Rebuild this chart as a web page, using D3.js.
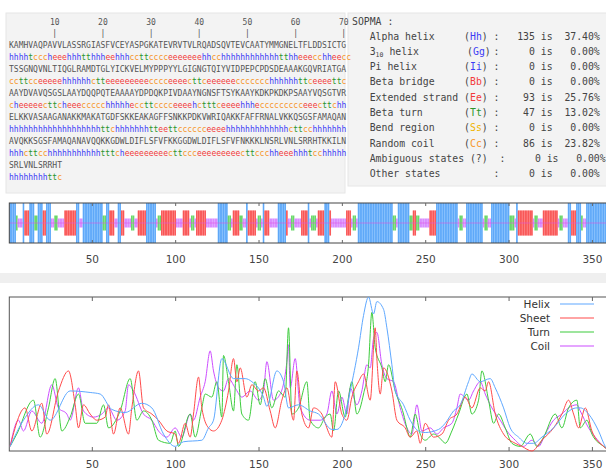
<!DOCTYPE html>
<html>
<head>
<meta charset="utf-8">
<script src="https://cdn.jsdelivr.net/npm/d3@7"></script>
<style>
  body { margin: 0; background: #fff; }
  svg { display: block; }
  .mono { font-family: "DejaVu Sans Mono", monospace; }
  .axis text { font-family: "DejaVu Sans", sans-serif; font-size: 10.5px; fill: #444; }
  .axis line { stroke: #666; }
  .axis path { display: none; }
</style>
</head>
<body>
<div id="chart"></div>
<script>
// Sequence and SOPMA prediction, 70 residues per line
const seqLines = [
  "KAMHVAQPAVVLASSRGIASFVCEYASPGKATEVRVTVLRQADSQVTEVCAATYMMGNELTFLDDSICTG",
  "TSSGNQVNLTIQGLRAMDTGLYICKVELMYPPPYYLGIGNGTQIYVIDPEPCPDSDEAAAKGQVRIATGA",
  "AAYDVAVQSGSLAAYDQQPQTEAAAAYDPDQKPIVDAAYNGNSFTSYKAAYKDKPKDKPSAAYVQSGTVR",
  "ELKKVASAAGANAKKMAKATGDFSKKEAKAGFFSNKKPDKVWRIQAKKFAFFRNALVKKQSGSFAMAQAN",
  "AVQKKSGSFAMAQANAVQQKKGDWLDIFLSFVFKKGGDWLDIFLSFVFNKKKLNSRLVNLSRRHTKKILN",
  "SRLVNLSRRHT"
];
const structLines = [
  "hhhhtcccheeehhhtthhheehhhccttcccceeeeeeehhcchhhhhhhhhhhhtthheeecchheecc",
  "ccttcceeeeehhhhhhctteeeeeeeeecccceeeecttceeeeeeccccccchhhhhhttceeeettc",
  "cheeeeecttcheeeccccchhhhheccttcccceeeehctttceeeehhheccccccccceeecttchh",
  "hhhhhhhhhhhhhhhhhhhttchhhhhhhtteettcccccceeeehhhhhhhhhhhhhcttcchhhhhhh",
  "hhhcttcchhhhhhhhhhhtttcheeeeeeeeecttccceeeeeeeeecttccchheeehhhtcchhhhh",
  "hhhhhhhhttc"
];
const rulerTicks = [10, 20, 30, 40, 50, 60, 70];

const sopmaLabels = ["Alpha helix", "3|10 helix", "Pi helix", "Beta bridge", "Extended strand",
  "Beta turn", "Bend region", "Random coil", "Ambiguous states (?)", "Other states"];
const sopmaCodes = ["Hh", "Gg", "Ii", "Bb", "Ee", "Tt", "Ss", "Cc", "", ""];
const sopmaCounts = [135, 0, 0, 0, 93, 47, 0, 86, 0, 0];
const sopmaPercents = [37.40, 0.00, 0.00, 0.00, 25.76, 13.02, 0.00, 23.82, 0.00, 0.00];

const axisTicks = [50, 100, 150, 200, 250, 300, 350];

// Score profiles (residue, value)
const helixRes = [1, 9, 18, 25, 37, 49, 55, 62, 70, 80, 86, 93, 100, 105, 116, 120, 123, 128, 135, 142, 146, 153, 155, 161, 165, 168, 174, 181, 186, 194, 197, 202, 205, 210, 213, 216, 219, 221, 225, 227, 230, 232, 237, 241, 246, 250, 258, 262, 267, 271, 276, 278, 283, 289, 292, 297, 301, 306, 311, 315, 320, 327, 334, 341, 343, 348, 354, 358, 361];
const helixVal = [0.03, 0.2, 0.3, 0.2, 0.39, 0.38, 0.37, 0.27, 0.25, 0.31, 0.28, 0.11, 0.03, 0.06, 0.07, 0.15, 0.2, 0.6, 0.47, 0.47, 0.45, 0.35, 0.29, 0.52, 0.45, 0.28, 0.3, 0.26, 0.24, 0.14, 0.14, 0.24, 0.39, 0.67, 0.88, 1.0, 0.89, 0.97, 0.92, 0.8, 0.56, 0.39, 0.3, 0.2, 0.13, 0.12, 0.14, 0.18, 0.26, 0.3, 0.45, 0.5, 0.45, 0.47, 0.41, 0.28, 0.15, 0.09, 0.05, 0.05, 0.09, 0.15, 0.24, 0.28, 0.28, 0.24, 0.13, 0.03, 0.0];

const sheetRes = [1, 10, 14, 20, 23, 30, 36, 40, 42, 45, 49, 53, 58, 60, 63, 67, 72, 74, 78, 81, 86, 90, 95, 100, 102, 106, 109, 111, 114, 116, 120, 123, 128, 130, 132, 135, 137, 139, 143, 146, 150, 153, 157, 160, 164, 167, 171, 173, 176, 180, 183, 188, 190, 194, 196, 200, 203, 206, 210, 213, 217, 220, 221, 223, 225, 230, 233, 238, 241, 245, 247, 250, 255, 260, 264, 269, 274, 278, 283, 286, 288, 292, 297, 304, 308, 314, 320, 327, 332, 336, 339, 342, 346, 350, 357, 361];
const sheetVal = [0.03, 0.28, 0.13, 0.31, 0.11, 0.39, 0.52, 0.3, 0.15, 0.3, 0.24, 0.2, 0.22, 0.3, 0.11, 0.28, 0.11, 0.28, 0.52, 0.28, 0.24, 0.2, 0.13, 0.11, 0.05, 0.18, 0.09, 0.24, 0.48, 0.28, 0.15, 0.13, 0.2, 0.28, 0.39, 0.6, 0.45, 0.54, 0.35, 0.43, 0.39, 0.41, 0.26, 0.15, 0.33, 0.41, 0.2, 0.52, 0.24, 0.15, 0.28, 0.24, 0.18, 0.09, 0.45, 0.24, 0.2, 0.35, 0.45, 0.5, 0.33, 0.8, 0.6, 0.37, 0.54, 0.39, 0.2, 0.15, 0.09, 0.13, 0.05, 0.18, 0.09, 0.11, 0.2, 0.24, 0.35, 0.28, 0.41, 0.39, 0.45, 0.24, 0.11, 0.05, 0.03, 0.0, 0.07, 0.15, 0.24, 0.33, 0.24, 0.15, 0.28, 0.13, 0.03, 0.0];

const turnRes = [1, 5, 15, 19, 24, 28, 32, 37, 42, 46, 53, 57, 60, 67, 73, 77, 81, 86, 90, 97, 100, 102, 109, 112, 116, 118, 122, 125, 128, 129, 132, 135, 137, 140, 144, 148, 151, 154, 158, 162, 166, 168, 170, 174, 179, 181, 186, 190, 193, 195, 198, 202, 204, 206, 209, 213, 216, 218, 220, 224, 226, 228, 232, 237, 239, 241, 244, 247, 250, 255, 260, 262, 266, 270, 275, 278, 282, 284, 288, 291, 294, 298, 302, 307, 313, 317, 321, 328, 332, 336, 341, 343, 347, 350, 357, 361];
const turnVal = [0.03, 0.11, 0.33, 0.09, 0.28, 0.47, 0.13, 0.22, 0.37, 0.18, 0.18, 0.3, 0.15, 0.26, 0.47, 0.2, 0.26, 0.2, 0.07, 0.05, 0.13, 0.03, 0.24, 0.09, 0.28, 0.37, 0.35, 0.45, 0.22, 0.62, 0.45, 0.26, 0.56, 0.24, 0.2, 0.45, 0.3, 0.47, 0.28, 0.39, 0.35, 0.8, 0.24, 0.28, 0.45, 0.2, 0.15, 0.22, 0.24, 0.13, 0.39, 0.22, 0.35, 0.45, 0.24, 0.37, 0.56, 0.9, 0.67, 0.54, 0.45, 0.56, 0.39, 0.24, 0.15, 0.09, 0.24, 0.11, 0.07, 0.11, 0.07, 0.05, 0.13, 0.24, 0.37, 0.24, 0.33, 0.52, 0.33, 0.18, 0.24, 0.15, 0.05, 0.03, 0.11, 0.03, 0.09, 0.24, 0.15, 0.28, 0.33, 0.15, 0.2, 0.11, 0.03, 0.0];

const coilRes = [1, 6, 9, 14, 20, 26, 30, 35, 37, 42, 45, 51, 56, 60, 65, 70, 72, 75, 81, 86, 90, 95, 100, 104, 109, 111, 115, 118, 121, 123, 126, 129, 132, 136, 140, 145, 150, 153, 155, 159, 163, 167, 168, 169, 172, 175, 181, 187, 191, 194, 197, 200, 203, 205, 209, 212, 215, 217, 219, 221, 224, 227, 231, 235, 239, 242, 245, 248, 253, 257, 261, 266, 269, 271, 276, 279, 283, 286, 290, 295, 299, 304, 309, 314, 318, 322, 327, 332, 336, 341, 343, 348, 352, 357, 361];
const coilVal = [0.03, 0.2, 0.13, 0.26, 0.18, 0.43, 0.28, 0.24, 0.2, 0.41, 0.26, 0.22, 0.24, 0.28, 0.2, 0.26, 0.43, 0.39, 0.24, 0.2, 0.13, 0.09, 0.15, 0.09, 0.24, 0.2, 0.35, 0.45, 0.65, 0.52, 0.41, 0.39, 0.47, 0.41, 0.35, 0.39, 0.33, 0.39, 0.58, 0.33, 0.37, 0.58, 0.69, 0.41, 0.6, 0.28, 0.2, 0.2, 0.24, 0.39, 0.24, 0.35, 0.24, 0.41, 0.3, 0.39, 0.56, 0.54, 0.73, 0.77, 0.56, 0.47, 0.45, 0.28, 0.15, 0.11, 0.3, 0.13, 0.15, 0.11, 0.15, 0.18, 0.28, 0.37, 0.33, 0.39, 0.45, 0.37, 0.28, 0.2, 0.13, 0.07, 0.03, 0.07, 0.03, 0.11, 0.2, 0.24, 0.28, 0.3, 0.26, 0.15, 0.09, 0.03, 0.0];

const seriesNames = ["Helix", "Sheet", "Turn", "Coil"];
const seriesColors = ["#5ea8ff", "#ff4a4a", "#3ccc3c", "#cc4dff"];
const stateColors = { h: "#3b3bf5", e: "#f23a3a", t: "#2c962c", c: "#f7962a" };

const W = 606, H = 471;
const svg = d3.select("#chart").append("svg").attr("width", W).attr("height", H);

// ---------- top panels ----------
svg.append("rect").attr("x", 6).attr("y", 13).attr("width", 339).attr("height", 180)
  .attr("fill", "#f3f3f3").attr("stroke", "#e6e6e6");
svg.append("rect").attr("x", 348).attr("y", 13).attr("width", 260).attr("height", 173)
  .attr("fill", "#f3f3f3").attr("stroke", "#e6e6e6");

const seqX0 = 9, cw = 0.602 * 8;
const colX = i => seqX0 + i * cw;

const ruler = svg.append("g").attr("class", "mono").style("font-size", "8px").attr("fill", "#555");
ruler.selectAll("text.num").data(rulerTicks).join("text").attr("class", "num")
  .attr("x", d => colX(d - 0.5)).attr("y", 25).attr("text-anchor", "middle").text(d => d);
ruler.selectAll("text.bar").data(rulerTicks).join("text").attr("class", "bar")
  .attr("x", d => colX(d - 0.5)).attr("y", 36).attr("text-anchor", "middle").text("|");

const seqG = svg.append("g").attr("class", "mono").style("font-size", "8px");
seqLines.forEach((s, k) => {
  seqG.append("text").attr("x", seqX0).attr("y", 48 + 24 * k).attr("fill", "#555").text(s);
  const runs = [];
  for (const ch of structLines[k]) {
    if (runs.length && runs[runs.length - 1].c === ch) runs[runs.length - 1].s += ch;
    else runs.push({ c: ch, s: ch });
  }
  seqG.append("text").attr("x", seqX0).attr("y", 60 + 24 * k)
    .selectAll("tspan").data(runs).join("tspan")
    .attr("fill", d => stateColors[d.c]).text(d => d.s);
});

// SOPMA summary, laid out in monospace columns
const codeColors = { Hh: "#3b3bf5", Gg: "#3b3bf5", Ii: "#3b3bf5", Bb: "#f23a3a", Ee: "#f23a3a",
  Tt: "#2c962c", Ss: "#f0b400", Cc: "#f7962a" };
const ccw = 0.602 * 9.8;
const col = c => 352 + c * ccw;
const sg = svg.append("g").attr("class", "mono").style("font-size", "9.8px").attr("fill", "#444");
sg.append("text").attr("x", col(0)).attr("y", 24.5).text("SOPMA :");
sopmaLabels.forEach((lab, i) => {
  const y = 39.5 + i * 15.3;
  const t = sg.append("text").attr("x", col(3)).attr("y", y);
  if (lab.includes("|")) {
    const [a, rest] = lab.split("|");
    t.append("tspan").text(a);
    t.append("tspan").attr("dy", 2.5).style("font-size", "6.5px").text(rest.slice(0, 2));
    t.append("tspan").attr("dy", -2.5).attr("dx", 6).text(rest.slice(2).trim());
  } else {
    t.text(lab);
  }
  const code = sopmaCodes[i];
  if (code) {
    const ct = sg.append("text").attr("x", col(19) + (lab.includes("|") ? 3 : 0)).attr("y", y);
    ct.append("tspan").text("(");
    ct.append("tspan").attr("fill", codeColors[code]).text(code);
    ct.append("tspan").text(")");
  }
  const shift = lab.startsWith("Ambiguous") ? 1 : 0;
  sg.append("text").attr("x", col(24 + shift)).attr("y", y).text(":");
  sg.append("text").attr("x", col(31 + shift)).attr("y", y).attr("text-anchor", "end").text(sopmaCounts[i]);
  sg.append("text").attr("x", col(32 + shift)).attr("y", y).text("is");
  sg.append("text").attr("x", col(42 + shift)).attr("y", y).attr("text-anchor", "end")
    .text(sopmaPercents[i].toFixed(2) + "%");
});

// ---------- shared x scale ----------
const x = d3.scaleLinear().domain([0.5, 361.5]).range([9.3, 9.3 + 361 * 1.667]);

svg.append("defs").append("clipPath").attr("id", "clip")
  .append("rect").attr("x", 9.3).attr("y", 0).attr("width", W - 9.3).attr("height", H);

// ---------- structure band ----------
const bandTop = 203, bandBot = 243, bandMid = (bandTop + bandBot) / 2;
const states = structLines.join("").split("").map((s, i) => ({ r: i + 1, s }));
const halfH = { h: 20, e: 12.5, t: 7.5, c: 4.5 };
const fill = { h: "#74b8ff", e: "#ff6a6a", t: "#6ad86a", c: "#d98cff" };

const band = svg.append("g").attr("clip-path", "url(#clip)");
band.selectAll("rect.res").data(states).join("rect").attr("class", "res")
  .attr("x", d => x(d.r - 0.5)).attr("width", x(2) - x(1))
  .attr("y", d => bandMid - halfH[d.s]).attr("height", d => 2 * halfH[d.s])
  .attr("fill", d => fill[d.s]);
band.selectAll("line.res").data(states.filter(d => d.s === "h" || d.s === "e")).join("line")
  .attr("class", "res")
  .attr("x1", d => x(d.r)).attr("x2", d => x(d.r))
  .attr("y1", d => bandMid - halfH[d.s]).attr("y2", d => bandMid + halfH[d.s])
  .attr("stroke", d => d.s === "h" ? "#4f9cf2" : "#f24848").attr("stroke-width", 0.6);
band.append("line").attr("x1", x(0.5)).attr("x2", W).attr("y1", bandMid).attr("y2", bandMid)
  .attr("stroke", "#e055e0").attr("stroke-width", 0.7).attr("opacity", 0.8);
svg.append("rect").attr("x", 9.3).attr("y", bandTop).attr("width", 620).attr("height", bandBot - bandTop)
  .attr("fill", "none").attr("stroke", "#444").attr("stroke-width", 1);

svg.append("g").attr("class", "axis").attr("transform", `translate(0,${bandBot})`)
  .call(d3.axisBottom(x).tickValues(axisTicks).tickSizeInner(-3).tickPadding(13));
svg.append("g").attr("class", "axis").attr("transform", `translate(0,${bandTop})`)
  .call(d3.axisTop(x).tickValues(axisTicks).tickSizeInner(-3).tickFormat(""));

// separator strip
svg.append("rect").attr("x", 0).attr("y", 273).attr("width", W).attr("height", 10).attr("fill", "#efefef");

// ---------- score profiles ----------
const plotTop = 297, plotBot = 451;
const y = d3.scaleLinear().domain([0, 1]).range([plotBot, plotTop]);
const seriesRes = [helixRes, sheetRes, turnRes, coilRes];
const seriesVal = [helixVal, sheetVal, turnVal, coilVal];

svg.append("rect").attr("x", 9.3).attr("y", plotTop).attr("width", 620).attr("height", plotBot - plotTop)
  .attr("fill", "#fff").attr("stroke", "#555").attr("stroke-width", 1);

const line = d3.line().x(d => x(d[0])).y(d => y(d[1])).curve(d3.curveMonotoneX);
const plot = svg.append("g").attr("clip-path", "url(#clip)");
[3, 2, 1, 0].forEach(k => {
  const pts = seriesRes[k].map((r, i) => [r, seriesVal[k][i]]);
  plot.append("path").datum(pts).attr("d", line)
    .attr("fill", "none").attr("stroke", seriesColors[k]).attr("stroke-width", 1);
});

svg.append("g").attr("class", "axis").attr("transform", `translate(0,${plotBot})`)
  .call(d3.axisBottom(x).tickValues(axisTicks).tickSizeInner(-4).tickPadding(10));
svg.append("g").attr("class", "axis").attr("transform", `translate(0,${plotTop})`)
  .call(d3.axisTop(x).tickValues(axisTicks).tickSizeInner(-4).tickFormat(""));

// legend
const leg = svg.append("g").selectAll("g").data(seriesNames).join("g")
  .attr("transform", (d, i) => `translate(0,${304 + i * 14})`);
leg.append("text").attr("x", 550).attr("y", 3.8).attr("text-anchor", "end")
  .style("font-family", "DejaVu Sans, sans-serif").style("font-size", "10.5px").attr("fill", "#333")
  .text(d => d);
leg.append("line").attr("x1", 560).attr("x2", 594).attr("y1", 0).attr("y2", 0)
  .attr("stroke", (d, i) => seriesColors[i]).attr("stroke-width", 1.2);
</script>
</body>
</html>
